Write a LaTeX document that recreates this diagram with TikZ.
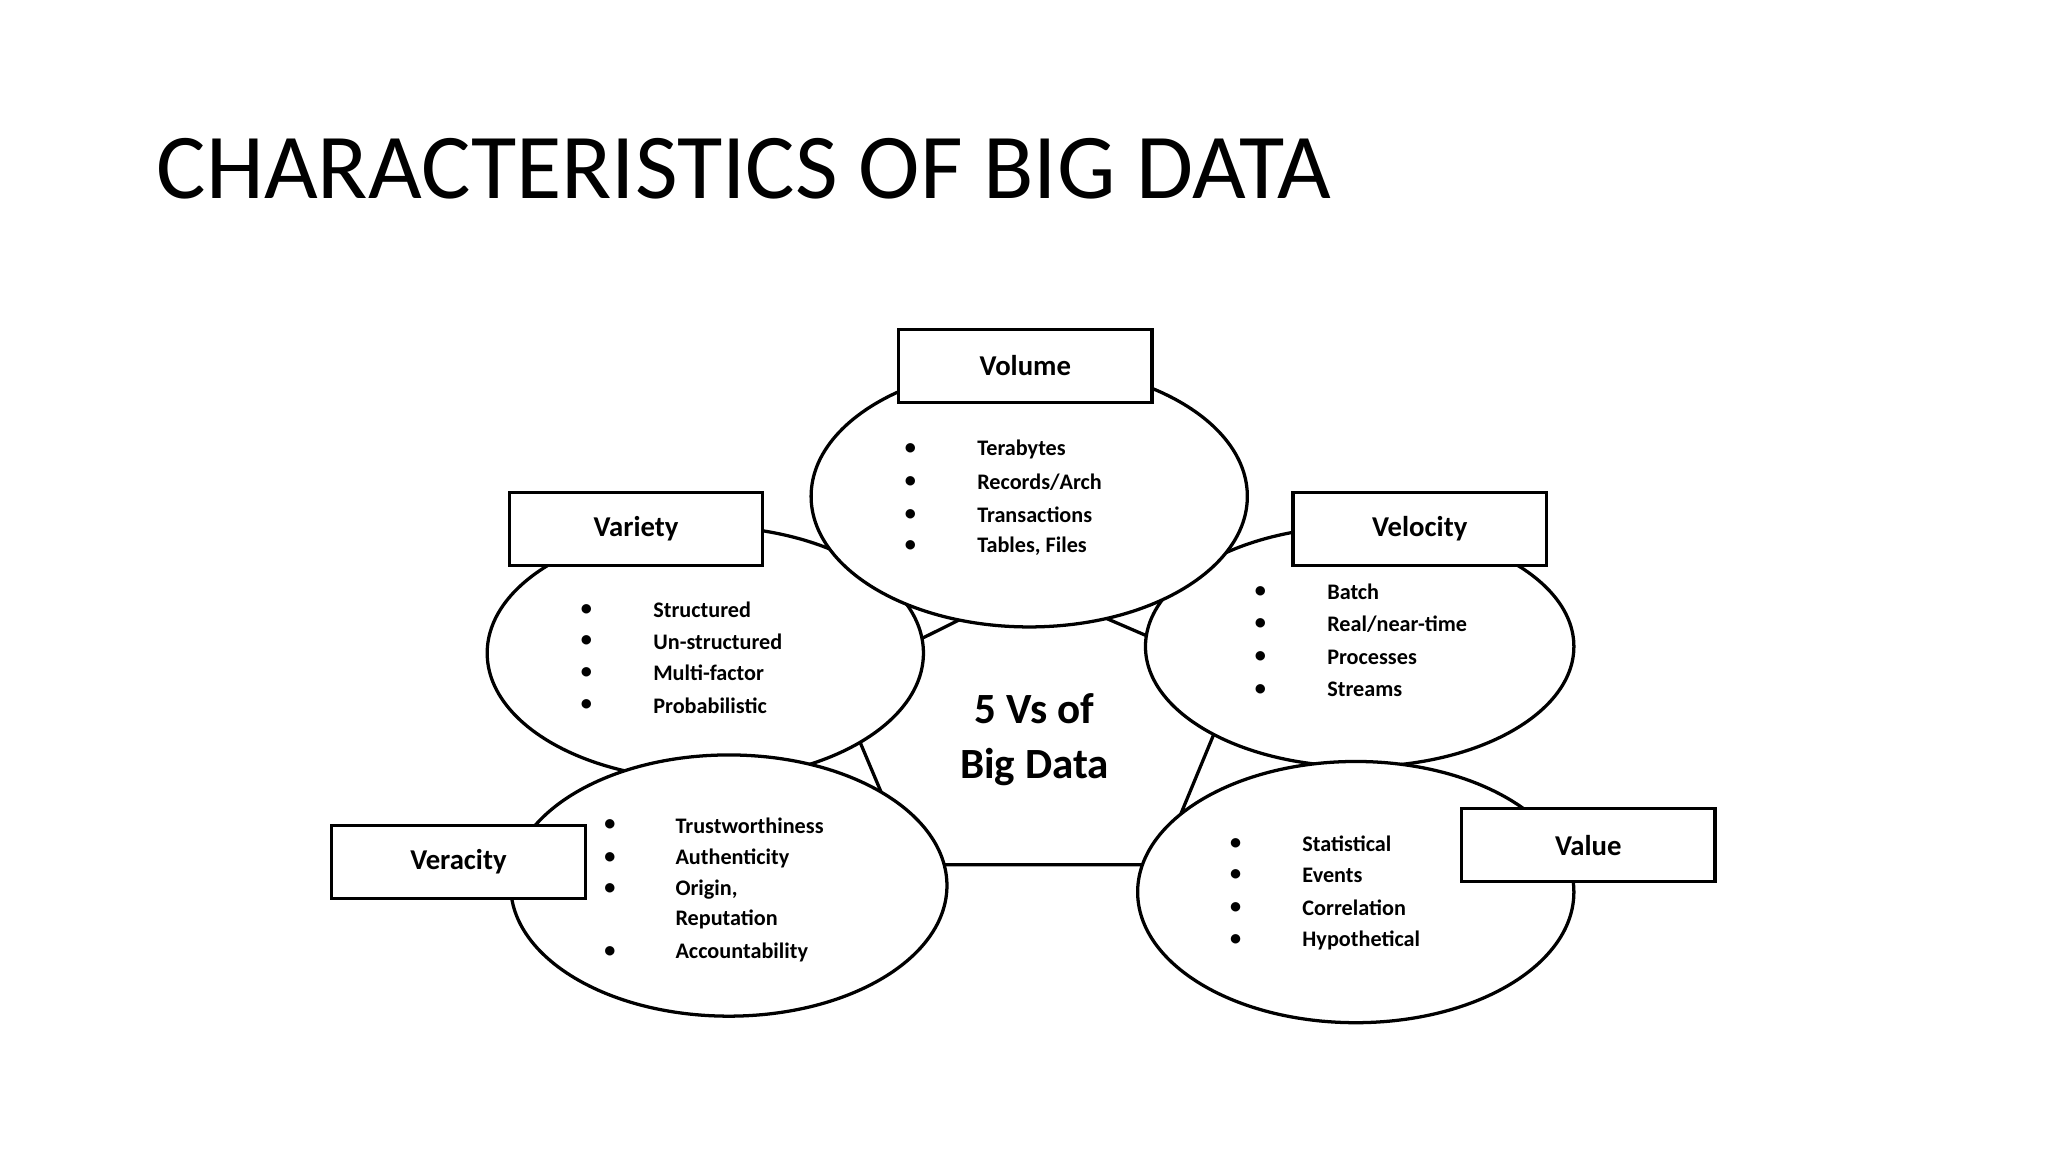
\documentclass[tikz,border=0pt]{standalone}
\usepackage{fontspec}
\setmainfont{Carlito}
\begin{document}
\begin{tikzpicture}[x=1pt,y=-1pt,
  ell/.style={draw,line width=2.5pt,fill=white},
  lbl/.style={draw,line width=2.5pt,fill=white,minimum width=194pt,minimum height=56pt,font=\fontsize{22}{26}\selectfont\bfseries},
  itm/.style={anchor=west,font=\fontsize{17}{20}\selectfont\bfseries,inner sep=0pt},
  bul/.style={font=\fontsize{17}{20}\selectfont\bfseries,inner sep=0pt}]
\useasboundingbox (0,0) rectangle (1568,882);
\node[anchor=base west,font=\fontsize{71}{80}\selectfont,inner sep=0pt] (title) at (120,152) {CHARACTERISTICS OF BIG DATA};
% pentagon
\coordinate (pt) at (788,448); \coordinate (pr) at (948,517); \coordinate (pbr) at (888,662);
\coordinate (pbl) at (698,662); \coordinate (pl) at (639,522);
\draw[line width=2.5pt] (pt)--(pr)--(pbr)--(pbl)--(pl)--cycle;
\node[font=\fontsize{33}{40}\selectfont\bfseries,align=center] (center) at (792,566) {5 Vs of\\[2pt]Big Data};
% ellipses
\draw[ell] (540,500) ellipse (167 and 97);
\draw[ell] (1041,495) ellipse (164 and 92);
\draw[ell] (788,380) ellipse (167 and 100);
\draw[ell] (558,678) ellipse (167 and 100);
\draw[ell] (1038,683) ellipse (167 and 100);
% boxes
\node[lbl] (vol) at (785,280) {Volume};
\node[lbl] (var) at (487,405) {Variety};
\node[lbl] (vel) at (1087,405) {Velocity};
\node[lbl] (ver) at (351,660) {Veracity};
\node[lbl] (val) at (1216,647) {Value};
% lists
\foreach \y/\t [count=\i] in {344/Terabytes,369/Records\slash Arch,394/Transactions,418/{Tables, Files}}{
  \node[bul] (volb\i) at (697,\y) {•}; \node[itm] (volt\i) at (748,\y) {\t};}
\foreach \y/\t [count=\i] in {467/Structured,491/Un-structured,515/Multi-factor,540/Probabilistic}{
  \node[bul] (varb\i) at (449,\y) {•}; \node[itm] (vart\i) at (500,\y) {\t};}
\foreach \y/\t [count=\i] in {453/Batch,478/Real\slash near-time,503/Processes,528/Streams}{
  \node[bul] (velb\i) at (965,\y) {•}; \node[itm] (velt\i) at (1016,\y) {\t};}
\foreach \y/\t [count=\i] in {632/Trustworthiness,657/Authenticity,681/{Origin,},729/Accountability}{
  \node[bul] (verb\i) at (467,\y) {•}; \node[itm] (vert\i) at (517,\y) {\t};}
\node[itm] (vert5) at (517,704) {Reputation};
\foreach \y/\t [count=\i] in {646/Statistical,670/Events,695/Correlation,720/Hypothetical}{
  \node[bul] (valb\i) at (946,\y) {•}; \node[itm] (valt\i) at (997,\y) {\t};}
\end{tikzpicture}
\end{document}
